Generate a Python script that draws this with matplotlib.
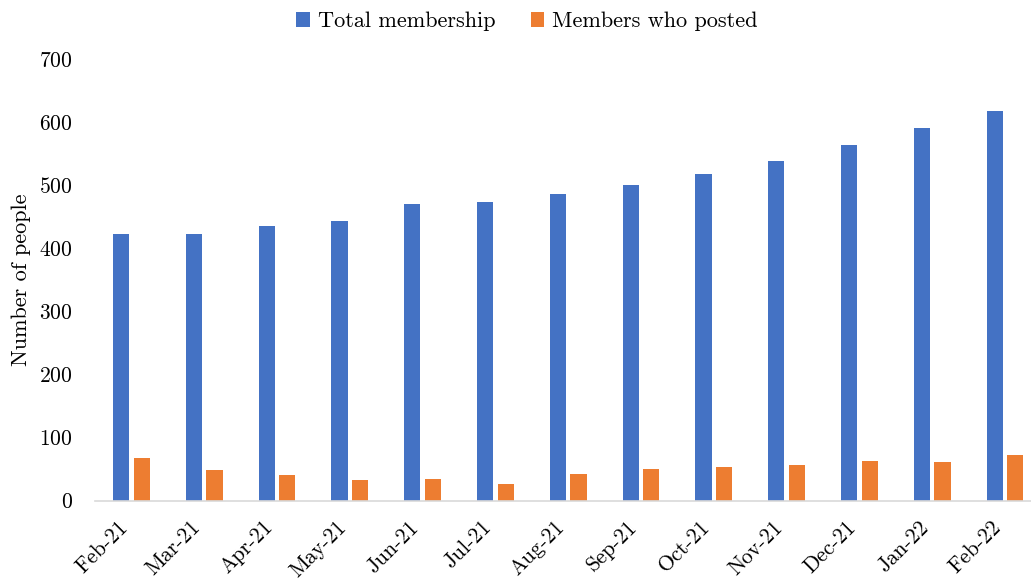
import matplotlib
matplotlib.use("Agg")
import matplotlib.pyplot as plt
import numpy as np

months = ["Feb-21", "Mar-21", "Apr-21", "May-21", "Jun-21", "Jul-21", "Aug-21",
          "Sep-21", "Oct-21", "Nov-21", "Dec-21", "Jan-22", "Feb-22"]
total_membership = [423, 423, 435, 443, 470, 473, 486, 501, 518, 539, 563, 590, 617]
members_posted = [67, 49, 40, 33, 35, 26, 43, 51, 53, 57, 63, 61, 72]

plt.rcParams['font.family'] = ['cmr10', 'DejaVu Serif']
plt.rcParams['axes.formatter.use_mathtext'] = True

fig = plt.figure(figsize=(10.31, 5.79), dpi=100)
ax = fig.add_axes([0.0921, 0.1352, 0.9079, 0.7628])

x = np.arange(len(months))
w = 0.222
off = 0.141
ax.bar(x - off, total_membership, w, color="#4472C4", label="Total membership", zorder=2)
ax.bar(x + off, members_posted, w, color="#ED7D31", label="Members who posted", zorder=2)

ax.set_xlim(-0.5, 12.357)
ax.set_ylim(0, 700)
ax.set_yticks(range(0, 701, 100))
ax.set_xticks(x)
ax.set_xticklabels(months, rotation=45, ha="right", va="top", fontsize=15.5)
ax.tick_params(axis="both", length=0)
ax.tick_params(axis="x", pad=12)
ax.tick_params(axis="y", pad=16)
for lab in ax.get_yticklabels():
    lab.set_fontsize(15.5)

for s in ["top", "right", "left"]:
    ax.spines[s].set_visible(False)
ax.spines["bottom"].set_color("#d9d9d9")
ax.spines["bottom"].set_linewidth(1.2)

ax.set_ylabel("Number of people", fontsize=16, labelpad=6)

fig.legend(loc="center", bbox_to_anchor=(0.511, 0.963), ncol=2, frameon=False,
           fontsize=16, handlelength=0.62, handleheight=0.62, handletextpad=0.35,
           columnspacing=1.6)

fig.savefig("out.png", dpi=100)
